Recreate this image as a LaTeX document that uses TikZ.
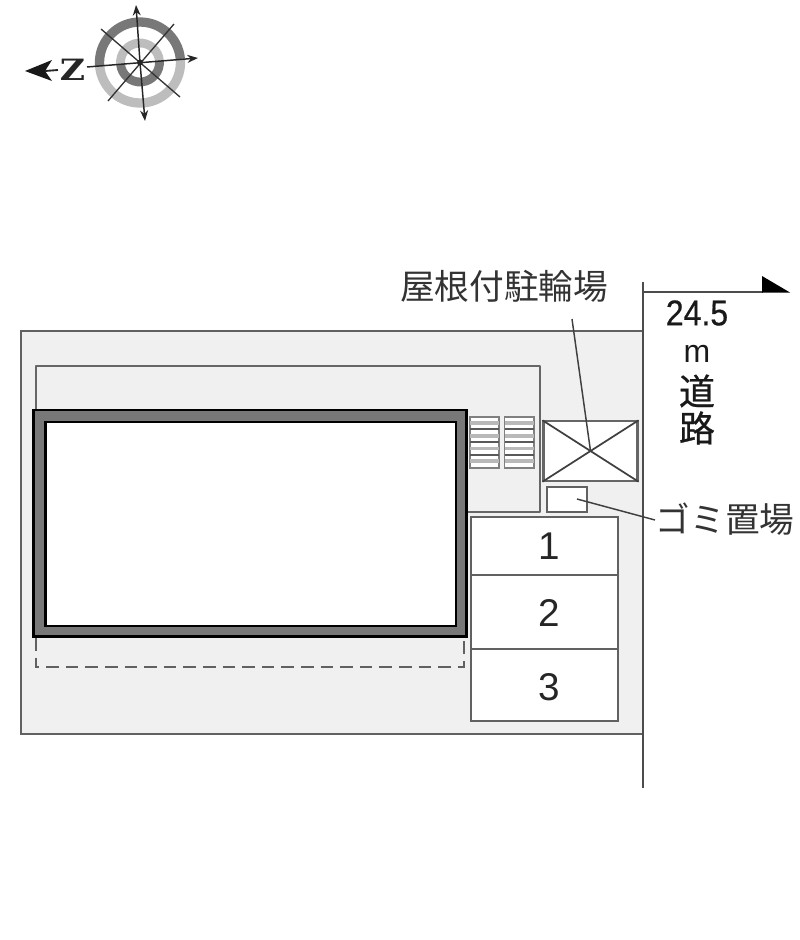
\documentclass[tikz,border=0pt]{standalone}
\usepackage{fontspec}
\setmainfont{Liberation Sans}
\newfontfamily\cjk{Noto Sans CJK JP}
\newfontfamily\cjkfat[FakeBold=0.7]{Noto Sans CJK JP}
\newfontfamily\numfat[FakeBold=0.5]{Liberation Sans}
\newfontfamily\slab{DejaVu Serif}
\usetikzlibrary{arrows.meta}
\definecolor{sitefill}{gray}{0.94}
\definecolor{edgegray}{gray}{0.38}
\definecolor{bandgray}{gray}{0.47}
\definecolor{ringdark}{gray}{0.47}
\definecolor{ringlight}{gray}{0.74}
\tikzset{
  x=0.75pt,y=-0.75pt,
  thinline/.style={draw=edgegray,line width=1.2pt},
  label/.style={inner sep=0pt,font=\cjk\fontsize{26pt}{26pt}\selectfont,text=black!80},
  num/.style={inner sep=0pt,font=\fontsize{29pt}{29pt}\selectfont,text=black!85},
  road/.style={inner sep=0pt,font=\numfat\fontsize{24pt}{24pt}\selectfont,text=black!90,yscale=1.12},
  roadm/.style={inner sep=0pt,font=\fontsize{24pt}{24pt}\selectfont,text=black!90},
  roadj/.style={inner sep=0pt,font=\cjkfat\fontsize{27pt}{27pt}\selectfont,text=black!90},
  leader/.style={draw=black!75,line width=1.1pt},
  compassarrow/.style={draw=black!85,line width=1.1pt,-{Stealth[length=8pt,width=6pt]}},
  compassplain/.style={draw=black!80,line width=1pt},
  stairbox/.style={draw=black!50,line width=1.3pt,fill=white},
  tread/.style={draw=black!65,line width=1.3pt},
  lighttread/.style={draw=gray!55,line width=2.4pt},
}
\begin{document}
\begin{tikzpicture}
\useasboundingbox (0,0) rectangle (800,940);
% compass rings
\def\cx{140}\def\cy{62.5}
\draw[ringdark,line width=7pt]  (\cx,\cy) ++(175:40.5) arc [start angle=175,end angle=355,radius=40.5];
\draw[ringlight,line width=7pt] (\cx,\cy) ++(355:40.5) arc [start angle=355,end angle=535,radius=40.5];
\draw[ringlight,line width=6.6pt] (\cx,\cy) ++(175:19.5) arc [start angle=175,end angle=355,radius=19.5];
\draw[ringdark,line width=6.6pt]  (\cx,\cy) ++(355:19.5) arc [start angle=355,end angle=535,radius=19.5];
% compass needles
\coordinate (nTop) at (136,5);
\coordinate (nBot) at (145,121);
\coordinate (nLeft) at (87,67);
\coordinate (nRight) at (198,58);
\draw[compassarrow] (\cx,\cy) -- (nTop);
\draw[compassarrow] (\cx,\cy) -- (nBot);
\draw[compassarrow] (nLeft) -- (nRight);
\coordinate (dA) at (101,29);
\coordinate (dB) at (180,97);
\coordinate (dC) at (108,101);
\coordinate (dD) at (174,24);
\draw[compassplain] (dA) -- (dB);
\draw[compassplain] (dC) -- (dD);
\fill[black!85] (\cx,\cy) circle [radius=3];
% north mark
\node[inner sep=0pt,font=\slab\fontsize{22pt}{22pt}\selectfont\bfseries,text=black!85,xscale=1.18] (zmark) at (72.5,69.5) {Z};
\coordinate (zTip) at (25,71);
\coordinate (zBackA) at (52,60);
\coordinate (zNotch) at (45,71);
\coordinate (zBackB) at (52,81);
\fill[black!90] (zTip) -- (zBackA) -- (zNotch) -- (zBackB) -- cycle;
\coordinate (zTail) at (58,70);
\draw[black!85,line width=1.4pt] (zNotch) -- (zTail);
% site
\path[fill=sitefill] (21,331) rectangle (643,734);
\draw[thinline] (643,331) -- (21,331) -- (21,734) -- (643,734);
% road edge
\coordinate (rTop) at (643,282);
\coordinate (rBot) at (643,788);
\draw[draw=black!70,line width=1.1pt] (rTop) -- (rBot);
\coordinate (rStart) at (643,292);
\coordinate (rEnd) at (763,292);
\draw[draw=black!70,line width=1.1pt] (rStart) -- (rEnd);
\fill[black] (762,276) -- (790,292.5) -- (762,292.5) -- cycle;
% covered outline
\draw[thinline,draw=gray!80!black,line join=round] (36,410) -- (36,366) -- (540,366) -- (540,512) -- (467,512);
% dashed extension
\draw[draw=edgegray,line width=1.3pt,dash pattern=on 9.5pt off 5.2pt] (36,638) -- (36,667) -- (464,667) -- (464,638);
% building
\draw[draw=black,line width=1.9pt,fill=bandgray] (33.5,410) rectangle (466.5,636.5);
\draw[draw=black,line width=2.2pt,fill=white] (45.5,422) rectangle (456,626);
% stairs
\foreach \xa/\xb in {470/499,504.5/534}{
  \draw[stairbox] (\xa,417) rectangle (\xb,468);
  \foreach \yy in {423,436,448.5,461}{\draw[lighttread] (\xa,\yy) -- (\xb,\yy);}
  \foreach \yy in {429,442,455}{\draw[tread] (\xa,\yy) -- (\xb,\yy);}
}
% bike shelter
\node[draw=black!60,line width=1.6pt,fill=white,minimum width=70.5pt,minimum height=44.5pt,inner sep=0pt] (shelter) at (590.5,451) {};
\draw[draw=black!75,line width=1.3pt] (shelter.north west) -- (shelter.south east);
\draw[draw=black!75,line width=1.3pt] (shelter.south west) -- (shelter.north east);
% trash
\node[draw=edgegray,line width=1.4pt,fill=white,minimum width=29.5pt,minimum height=18.5pt,inner sep=0pt] (trash) at (567,499.5) {};
% parking
\node[draw=edgegray,line width=1.1pt,fill=white,minimum width=110pt,minimum height=43.5pt,inner sep=0pt] (p1) at (544.5,546) {};
\node[draw=edgegray,line width=1.1pt,fill=white,minimum width=110pt,minimum height=55.5pt,inner sep=0pt] (p2) at (544.5,612) {};
\node[draw=edgegray,line width=1.1pt,fill=white,minimum width=110pt,minimum height=54pt,inner sep=0pt] (p3) at (544.5,685) {};
\node[num] (n1) at (549,546) {1};
\node[num] (n2) at (549,613) {2};
\node[num] (n3) at (549,687) {3};
% labels and leaders
\node[label] (lshelter) at (504,286.5) {屋根付駐輪場};
\coordinate (lsEnd) at (shelter.center);
\coordinate (lsStart) at (572,319);
\draw[leader] (lsStart) -- (lsEnd);
\node[label] (ltrash) at (725,519) {ゴミ置場};
\coordinate (ltStart) at (577,499);
\draw[leader] (ltStart) -- (655,520);
\node[road] (rw) at (697,313) {24.5};
\node[roadm] (rm) at (697,354) {m};
\node[roadj] (r1) at (697,391) {道};
\node[roadj] (r2) at (697,428) {路};
\end{tikzpicture}
\end{document}
